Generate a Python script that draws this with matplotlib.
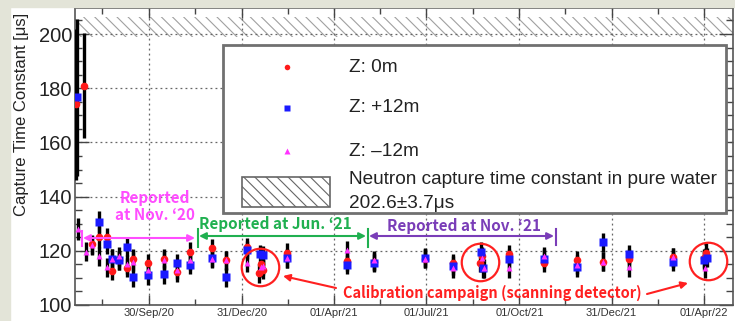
import matplotlib
matplotlib.use('Agg')
import matplotlib.pyplot as plt
import matplotlib.dates as mdates
from matplotlib.patches import Rectangle
import numpy as np

plt.rcParams['font.family'] = ['Liberation Sans', 'DejaVu Sans']
plt.rcParams['hatch.linewidth'] = 0.8

# ---------------- data ----------------
z0_dates = ['2020-07-20', '2020-07-28', '2020-08-05', '2020-08-12', '2020-08-20', '2020-08-25',
            '2020-08-31', '2020-09-08', '2020-09-14', '2020-09-29', '2020-10-15', '2020-10-28',
            '2020-11-10', '2020-12-01', '2020-12-15', '2021-01-05', '2021-01-17', '2021-01-19',
            '2021-01-21', '2021-02-13', '2021-04-14', '2021-05-10', '2021-06-30', '2021-07-27',
            '2021-08-23', '2021-08-25', '2021-09-21', '2021-10-25', '2021-11-27', '2021-12-23',
            '2022-01-17', '2022-03-02', '2022-04-01', '2022-04-03']
z0_vals = [174, 181, 122.5, 125, 125, 112.7, 116.5, 113.7, 117, 115.5, 117, 112,
           119.6, 121, 116.6, 121.4, 111.8, 115, 113, 119.2, 116.2, 116, 117, 115.5,
           115.5, 118, 118.8, 115.5, 116.6, 116, 117, 117.7, 117.3, 119.2]
z0_errs = [28, 19.5, 3.5, 4, 3.5, 3.5, 3.5, 3.5, 3.5, 3.5, 3.5, 3.5,
           3.5, 3.5, 3.5, 3.5, 3.5, 3.5, 3.5, 3.5, 3.5, 3.5, 3.5, 3.5,
           3.5, 3.5, 3.5, 3.5, 3.5, 3.5, 3.5, 3.5, 3.5, 3.5]

p12_dates = ['2020-07-21', '2020-08-12', '2020-08-20', '2020-08-25', '2020-08-31', '2020-09-08',
             '2020-09-14', '2020-09-29', '2020-10-15', '2020-10-28', '2020-11-10', '2020-12-01',
             '2020-12-15', '2021-01-05', '2021-01-18', '2021-01-21', '2021-02-13', '2021-04-14',
             '2021-05-10', '2021-06-30', '2021-07-27', '2021-08-24', '2021-08-26', '2021-09-21',
             '2021-10-25', '2021-11-27', '2021-12-23', '2022-01-17', '2022-03-02', '2022-04-01',
             '2022-04-04']
p12_vals = [176.7, 130.6, 122.5, 117, 116.6, 121.4, 110.3, 111, 111.4, 115.5, 114.8, 117.5,
            110.3, 120.3, 118.8, 118.4, 117.3, 114.8, 115.5, 117.5, 114.5, 119.6, 113.6, 117,
            117, 114, 123.2, 118.8, 116, 116.6, 117.5]
p12_errs = [29, 4, 3.5, 3.5, 3.5, 3.5, 3.5, 3.5, 3.5, 3.5, 3.5, 3.5,
            3.5, 3.5, 3.5, 3.5, 3.5, 3.5, 3.5, 3.5, 3.5, 3.5, 3.5, 3.5,
            3.5, 3.5, 3.5, 3.5, 3.5, 3.5, 3.5]

m12_dates = ['2020-07-22', '2020-07-30', '2020-08-05', '2020-08-12', '2020-08-20', '2020-08-25',
             '2020-08-31', '2020-09-08', '2020-09-14', '2020-09-29', '2020-10-15', '2020-10-28',
             '2020-11-10', '2020-12-01', '2020-12-15', '2021-01-05', '2021-01-19', '2021-01-21',
             '2021-02-13', '2021-04-14', '2021-05-10', '2021-06-30', '2021-07-27', '2021-08-25',
             '2021-08-27', '2021-09-21', '2021-10-25', '2021-11-27', '2021-12-23', '2022-01-17',
             '2022-03-02', '2022-04-02']
m12_vals = [128, 119.6, 122, 118, 114, 117, 118, 115, 116, 113, 116.6, 113,
            116.6, 117, 116.6, 115.5, 114, 114.5, 117.3, 120.3, 116.6, 117, 113.6, 117.3,
            113.6, 113.6, 118, 114.8, 116, 114, 117.7, 113.6]
m12_errs = [4, 3.5, 3.5, 3.5, 3.5, 3.5, 3.5, 3.5, 3.5, 3.5, 3.5, 3.5,
            3.5, 3.5, 3.5, 3.5, 3.5, 3.5, 3.5, 3.5, 3.5, 3.5, 3.5, 3.5,
            3.5, 3.5, 3.5, 3.5, 3.5, 3.5, 3.5, 3.5]

pure_water = 202.6
pure_water_err = 3.7

tick_dates = ['2020-09-30', '2020-12-31', '2021-04-01', '2021-07-01', '2021-10-01', '2021-12-31', '2022-04-01']
tick_labels = ['30/Sep/20', '31/Dec/20', '01/Apr/21', '01/Jul/21', '01/Oct/21', '31/Dec/21', '01/Apr/22']

campaign_dates = ['2021-01-18', '2021-08-23', '2022-04-05']
campaign_vals = [114, 115.9, 116.2]

x_range = ['2020-07-19', '2022-04-30']
y_range = [100, 209.6]

# ---------------- figure ----------------
W, H = 735, 321
fig = plt.figure(figsize=(W / 100, H / 100), dpi=100, facecolor='white')
beige = '#e3e4d8'
fig.patches.append(Rectangle((0, 0), 10 / W, 1, transform=fig.transFigure, color=beige, zorder=0))
fig.patches.append(Rectangle((0, 1 - 7 / H), 1, 7 / H, transform=fig.transFigure, color=beige, zorder=0))

AX_L, AX_R, AX_T, AX_B = 75, 733, 8, 305
ax = fig.add_axes([AX_L / W, 1 - AX_B / H, (AX_R - AX_L) / W, (AX_B - AX_T) / H])


def axy(px, py):
    return ((px - AX_L) / (AX_R - AX_L), (AX_B - py) / (AX_B - AX_T))


def d(lst):
    return mdates.datestr2num(lst)


xr = d(x_range)
ax.set_xlim(xr[0], xr[1])
ax.set_ylim(*y_range)

# hatch band
ax.fill_between(xr, pure_water - pure_water_err, pure_water + pure_water_err,
                facecolor='none', edgecolor='#a0a0a0', hatch='\\\\\\', linewidth=0, zorder=1)

# grid
ax.set_xticks(d(tick_dates))
ax.set_xticklabels(tick_labels)
tk = d(tick_dates)
ax.set_xticks(list((tk[:-1] + tk[1:]) / 2) + [tk[0] - 46], minor=True)
ax.set_yticks(np.arange(100, 201, 20))
ax.set_yticks(np.arange(100, 210, 5), minor=True)
ax.grid(True, which='major', linestyle=(0, (1.5, 2.5)), color='#666666', linewidth=0.9)

ax.tick_params(axis='both', which='both', direction='in', top=True, right=True, colors='#444444')
ax.tick_params(axis='y', which='major', length=10, width=1.0, labelsize=14.5, pad=2, labelcolor='#222222')
ax.tick_params(axis='y', which='minor', length=5, width=1.0)
ax.tick_params(axis='x', which='major', length=7, width=1.0, labelsize=8, pad=2, labelcolor='#333333')
ax.tick_params(axis='x', which='minor', length=4, width=1.0)
for s in ax.spines.values():
    s.set_color('#555555')
    s.set_linewidth(1.2)

ax.set_ylabel('Capture Time Constant [μs]', fontsize=12, color='#222222')
ax.yaxis.set_label_coords((29 - AX_L) / (AX_R - AX_L), (AX_B - 114) / (AX_B - AX_T))

# error bars + markers
for dates, vals, errs in [(z0_dates, z0_vals, z0_errs), (p12_dates, p12_vals, p12_errs),
                          (m12_dates, m12_vals, m12_errs)]:
    ax.errorbar(d(dates), vals, yerr=errs, fmt='none', ecolor='black', elinewidth=2.4,
                capsize=0, zorder=3)
ax.plot(d(z0_dates), z0_vals, 'o', color='#ff1a1a', ms=5.5, mec='none', zorder=4)
ax.plot(d(p12_dates), p12_vals, 's', color='#1a1aff', ms=5.5, mec='none', zorder=4)
ax.plot(d(m12_dates), m12_vals, '^', color='#ff33ff', ms=5, mec='none', zorder=4)

# calibration campaign circles
ax.plot(d(campaign_dates), campaign_vals, 'o', ms=27, mfc='none', mec='#ff2020', mew=1.6, zorder=5)

# legend (drawn manually)
lx0, ly0 = axy(223, 213)
lx1, ly1 = axy(726, 45)
ax.add_patch(Rectangle((lx0, ly0), lx1 - lx0, ly1 - ly0, transform=ax.transAxes,
                       facecolor='white', edgecolor='#707070', linewidth=2, zorder=6))
ax.plot(*axy(287, 67), 'o', color='#ff1a1a', ms=4, mec='none', transform=ax.transAxes, zorder=7)
ax.plot(*axy(287, 108), 's', color='#1a1aff', ms=4, mec='none', transform=ax.transAxes, zorder=7)
ax.plot(*axy(287, 151), '^', color='#ff33ff', ms=4, mec='none', transform=ax.transAxes, zorder=7)
hx0, hy0 = axy(242, 207)
hx1, hy1 = axy(330, 177)
ax.add_patch(Rectangle((hx0, hy0), hx1 - hx0, hy1 - hy0, transform=ax.transAxes,
                       facecolor='white', edgecolor='#666666', hatch='\\\\\\', linewidth=1.2, zorder=7))
leg_txt = dict(transform=ax.transAxes, fontsize=13.7, color='#222222', va='center', ha='left', zorder=8)
ax.text(*axy(349, 67), 'Z: 0m', **leg_txt)
ax.text(*axy(349, 108), 'Z: +12m', **leg_txt)
ax.text(*axy(349, 151), 'Z: \u201312m', **leg_txt)
ax.text(*axy(349, 180), 'Neutron capture time constant in pure water', **leg_txt)
ax.text(*axy(349, 203), '202.6\u00b13.7\u03bcs', **leg_txt)

# reporting periods
jp = ['Noto Sans CJK JP', 'DejaVu Sans']
mag, grn, pur = '#ff4dff', '#20b050', '#7a3db8'
ax.text(*axy(155, 198), 'Reported', transform=ax.transAxes, color=mag, fontsize=11,
        family=jp, weight='bold', ha='center', va='center', zorder=8)
ax.text(*axy(155, 215), 'at Nov. \u201820', transform=ax.transAxes, color=mag, fontsize=11,
        family=jp, weight='bold', ha='center', va='center', zorder=8)
ax.text(*axy(275, 224), 'Reported at Jun. \u201821', transform=ax.transAxes, color=grn, fontsize=11,
        family=jp, weight='bold', ha='center', va='center', zorder=8)
ax.text(*axy(464, 226), 'Reported at Nov. \u201821', transform=ax.transAxes, color=pur, fontsize=11,
        family=jp, weight='bold', ha='center', va='center', zorder=8)


def period(x0, x1, y, color):
    ax.annotate('', xy=axy(x1, y), xytext=axy(x0, y), xycoords='axes fraction',
                textcoords='axes fraction',
                arrowprops=dict(arrowstyle='<|-|>', color=color, lw=1.5, mutation_scale=10,
                                shrinkA=0, shrinkB=0), zorder=8)


def bar(x, y0, y1, color):
    a, b = axy(x, y0)
    c, e = axy(x, y1)
    ax.plot([a, c], [b, e], color=color, lw=1.5, transform=ax.transAxes, zorder=8)


period(83, 195, 238, mag)
bar(82, 231, 246, mag)
period(199, 366, 236, grn)
bar(197.5, 229, 247, grn)
bar(367.5, 229, 247, grn)
period(369, 554, 236, pur)
bar(556, 229, 245, pur)

# calibration campaign text and arrows
red = '#ff2020'
ax.text(*axy(492, 293), 'Calibration campaign (scanning detector)', transform=ax.transAxes,
        color=red, fontsize=10.5, family=jp, weight='bold', ha='center', va='center', zorder=8)
ax.annotate('', xy=axy(283, 276), xytext=axy(336, 288), xycoords='axes fraction',
            textcoords='axes fraction',
            arrowprops=dict(arrowstyle='-|>', color=red, lw=1.5, mutation_scale=10,
                            shrinkA=0, shrinkB=0), zorder=8)
ax.annotate('', xy=axy(688, 283), xytext=axy(647, 294), xycoords='axes fraction',
            textcoords='axes fraction',
            arrowprops=dict(arrowstyle='-|>', color=red, lw=1.5, mutation_scale=10,
                            shrinkA=0, shrinkB=0), zorder=8)

fig.savefig('out.png', dpi=100, facecolor='white')
